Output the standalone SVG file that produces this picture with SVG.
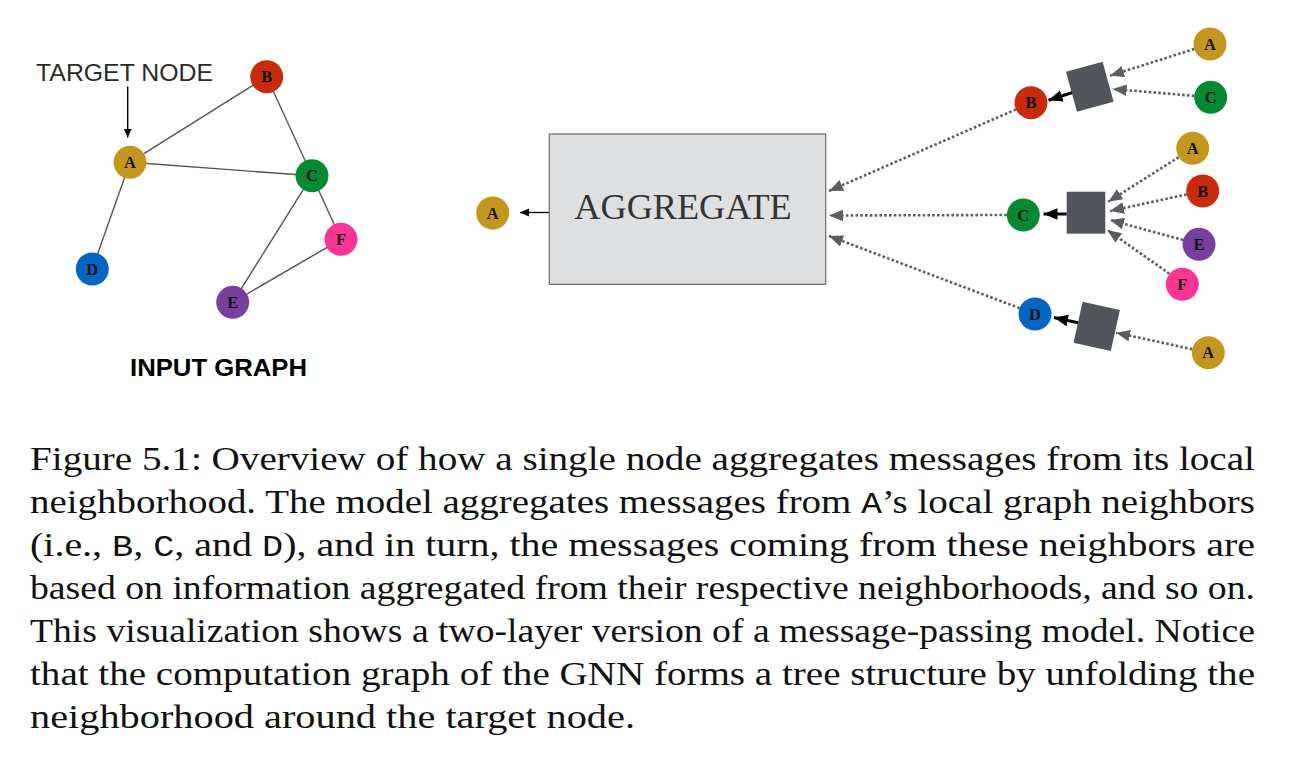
<svg xmlns="http://www.w3.org/2000/svg" width="1298" height="774" viewBox="0 0 1298 774">
<style>
.nA{fill:#C4961E}.nB{fill:#C72A0C}.nC{fill:#078934}.nD{fill:#0366C2}.nE{fill:#77409C}.nF{fill:#FC3594}
.lbl{font-family:"Liberation Serif","Times New Roman",serif;font-weight:bold;font-size:16.5px;fill:#111;text-anchor:middle}
.edge{stroke:#555;stroke-width:1.4;fill:none}
.dot{stroke:#5E5E5E;stroke-width:2.6;stroke-dasharray:2.6 2.2;fill:none}
.blk{stroke:#000;stroke-width:3;fill:none}
.sq{fill:#52565C}
.cap{font-family:"Liberation Serif","Times New Roman",serif;font-size:34px;fill:#111}
.tt{font-family:"Liberation Mono","Courier New",monospace;font-size:30px}
</style>
<defs>
<marker id="mGray" markerUnits="userSpaceOnUse" markerWidth="14" markerHeight="14" viewBox="0 0 12 10" refX="12" refY="5" orient="auto">
<path d="M0,0 L12,5 L0,10 Z" fill="#5A5D62"/>
</marker>
<marker id="mBlk" markerUnits="userSpaceOnUse" markerWidth="14" markerHeight="14" viewBox="0 0 12 10" refX="12" refY="5" orient="auto">
<path d="M0,0 L12,5 L0,10 Z" fill="#000"/>
</marker>
<marker id="mSmall" markerUnits="userSpaceOnUse" markerWidth="9" markerHeight="9" viewBox="0 0 9 8" refX="9" refY="4" orient="auto">
<path d="M0,0 L9,4 L0,8 Z" fill="#000"/>
</marker>
</defs>
<rect width="1298" height="774" fill="#fff"/>

<g id="connectors">
<line class="edge" x1="130" y1="162.3" x2="266.7" y2="76.7"/>
<line class="edge" x1="130" y1="162.3" x2="312" y2="175.7"/>
<line class="edge" x1="266.7" y1="76.7" x2="312" y2="175.7"/>
<line class="edge" x1="130" y1="162.3" x2="92.3" y2="269"/>
<line class="edge" x1="312" y1="175.7" x2="232.7" y2="302.3"/>
<line class="edge" x1="312" y1="175.7" x2="341" y2="239.3"/>
<line class="edge" x1="232.7" y1="302.3" x2="341" y2="239.3"/>
<line x1="127.7" y1="86.5" x2="127.7" y2="137.5" stroke="#000" stroke-width="1.4" marker-end="url(#mSmall)"/>
<line x1="549" y1="212.5" x2="520" y2="212.5" stroke="#000" stroke-width="1.3" marker-end="url(#mSmall)"/>
<line class="dot" x1="1015.9" y1="109.4" x2="829" y2="191" marker-end="url(#mGray)"/>
<line class="dot" x1="1006.8" y1="215" x2="829" y2="215.5" marker-end="url(#mGray)"/>
<line class="dot" x1="1019.6" y1="308.2" x2="829" y2="236" marker-end="url(#mGray)"/>
<line class="blk" x1="1072.5" y1="92.5" x2="1048.5" y2="100.3" marker-end="url(#mBlk)"/>
<line class="blk" x1="1066.7" y1="214" x2="1043.5" y2="214" marker-end="url(#mBlk)"/>
<line class="blk" x1="1078" y1="322.7" x2="1054" y2="317.5" marker-end="url(#mBlk)"/>
<line class="dot" x1="1194.3" y1="49" x2="1110" y2="75.7" marker-end="url(#mGray)"/>
<line class="dot" x1="1194.3" y1="95.9" x2="1112.7" y2="89" marker-end="url(#mGray)"/>
<line class="dot" x1="1178.7" y1="157.2" x2="1108.3" y2="201.7" marker-end="url(#mGray)"/>
<line class="dot" x1="1186.6" y1="194.5" x2="1110" y2="211" marker-end="url(#mGray)"/>
<line class="dot" x1="1183.2" y1="240" x2="1110" y2="220" marker-end="url(#mGray)"/>
<line class="dot" x1="1169.4" y1="273.7" x2="1107.3" y2="230" marker-end="url(#mGray)"/>
<line class="dot" x1="1192.2" y1="349.2" x2="1116" y2="332.7" marker-end="url(#mGray)"/>
</g>

<text x="36" y="80.5" font-family="Liberation Sans, Arial, sans-serif" font-size="24" fill="#2a2a2a" textLength="177" lengthAdjust="spacingAndGlyphs">TARGET NODE</text>
<text x="130" y="376" font-family="Liberation Sans, Arial, sans-serif" font-size="24" font-weight="bold" fill="#000" textLength="177" lengthAdjust="spacingAndGlyphs">INPUT GRAPH</text>

<g id="g-A"><circle class="nA" cx="130" cy="162.3" r="16.5"/><text class="lbl" x="130" y="167.8">A</text></g>
<g id="g-B"><circle class="nB" cx="266.7" cy="76.7" r="16.5"/><text class="lbl" x="266.7" y="82.2">B</text></g>
<g id="g-C"><circle class="nC" cx="312" cy="175.7" r="16.5"/><text class="lbl" x="312" y="181.2">C</text></g>
<g id="g-D"><circle class="nD" cx="92.3" cy="269" r="16.5"/><text class="lbl" x="92.3" y="274.5">D</text></g>
<g id="g-E"><circle class="nE" cx="232.7" cy="302.3" r="16.5"/><text class="lbl" x="232.7" y="307.8">E</text></g>
<g id="g-F"><circle class="nF" cx="341" cy="239.3" r="16.5"/><text class="lbl" x="341" y="244.8">F</text></g>

<g id="out-A"><circle class="nA" cx="492.7" cy="213" r="16.5"/><text class="lbl" x="492.7" y="218.5">A</text></g>

<g id="aggregate">
<rect x="549.3" y="134" width="276.4" height="150.3" fill="#DEDFE1" stroke="#6A6A6A" stroke-width="1.2"/>
<text x="574.3" y="219.3" font-family="Liberation Serif, Times New Roman, serif" font-size="35" fill="#333" textLength="217.4" lengthAdjust="spacingAndGlyphs">AGGREGATE</text>
</g>

<g id="h-B"><circle class="nB" cx="1031" cy="102.7" r="16.5"/><text class="lbl" x="1031" y="108.2">B</text></g>
<g id="h-C"><circle class="nC" cx="1023.3" cy="215" r="16.5"/><text class="lbl" x="1023.3" y="220.5">C</text></g>
<g id="h-D"><circle class="nD" cx="1035" cy="314" r="16.5"/><text class="lbl" x="1035" y="319.5">D</text></g>

<g id="agg-B"><rect class="sq" x="1070.8" y="66" width="38" height="41.5" transform="rotate(-15.4 1089.8 86.8)"/></g>
<g id="agg-C"><rect class="sq" x="1066.7" y="191.7" width="38.6" height="42"/></g>
<g id="agg-D"><rect class="sq" x="1077.6" y="305.4" width="38.2" height="42" transform="rotate(12.5 1096.7 326.4)"/></g>

<g id="l2-BA"><circle class="nA" cx="1210" cy="44" r="16.5"/><text class="lbl" x="1210" y="49.5">A</text></g>
<g id="l2-BC"><circle class="nC" cx="1210.7" cy="97.3" r="16.5"/><text class="lbl" x="1210.7" y="102.8">C</text></g>
<g id="l2-CA"><circle class="nA" cx="1192.7" cy="148.3" r="16.5"/><text class="lbl" x="1192.7" y="153.8">A</text></g>
<g id="l2-CB"><circle class="nB" cx="1202.7" cy="191" r="16.5"/><text class="lbl" x="1202.7" y="196.5">B</text></g>
<g id="l2-CE"><circle class="nE" cx="1199" cy="244.3" r="16.5"/><text class="lbl" x="1199" y="249.8">E</text></g>
<g id="l2-CF"><circle class="nF" cx="1182.3" cy="284.3" r="16.5"/><text class="lbl" x="1182.3" y="289.8">F</text></g>
<g id="l2-DA"><circle class="nA" cx="1208.3" cy="352.7" r="16.5"/><text class="lbl" x="1208.3" y="358.2">A</text></g>

<g id="caption" class="cap">
<text x="30" y="470" textLength="1225" lengthAdjust="spacingAndGlyphs">Figure 5.1: Overview of how a single node aggregates messages from its local</text>
<text x="30" y="513" textLength="1225" lengthAdjust="spacingAndGlyphs">neighborhood. The model aggregates messages from <tspan class="tt">A</tspan>’s local graph neighbors</text>
<text x="30" y="556" textLength="1225" lengthAdjust="spacingAndGlyphs">(i.e., <tspan class="tt">B</tspan>, <tspan class="tt">C</tspan>, and <tspan class="tt">D</tspan>), and in turn, the messages coming from these neighbors are</text>
<text x="30" y="599" textLength="1225" lengthAdjust="spacingAndGlyphs">based on information aggregated from their respective neighborhoods, and so on.</text>
<text x="30" y="642" textLength="1225" lengthAdjust="spacingAndGlyphs">This visualization shows a two-layer version of a message-passing model. Notice</text>
<text x="30" y="685" textLength="1225" lengthAdjust="spacingAndGlyphs">that the computation graph of the GNN forms a tree structure by unfolding the</text>
<text x="30" y="728" textLength="605" lengthAdjust="spacingAndGlyphs">neighborhood around the target node.</text>
</g>
</svg>
